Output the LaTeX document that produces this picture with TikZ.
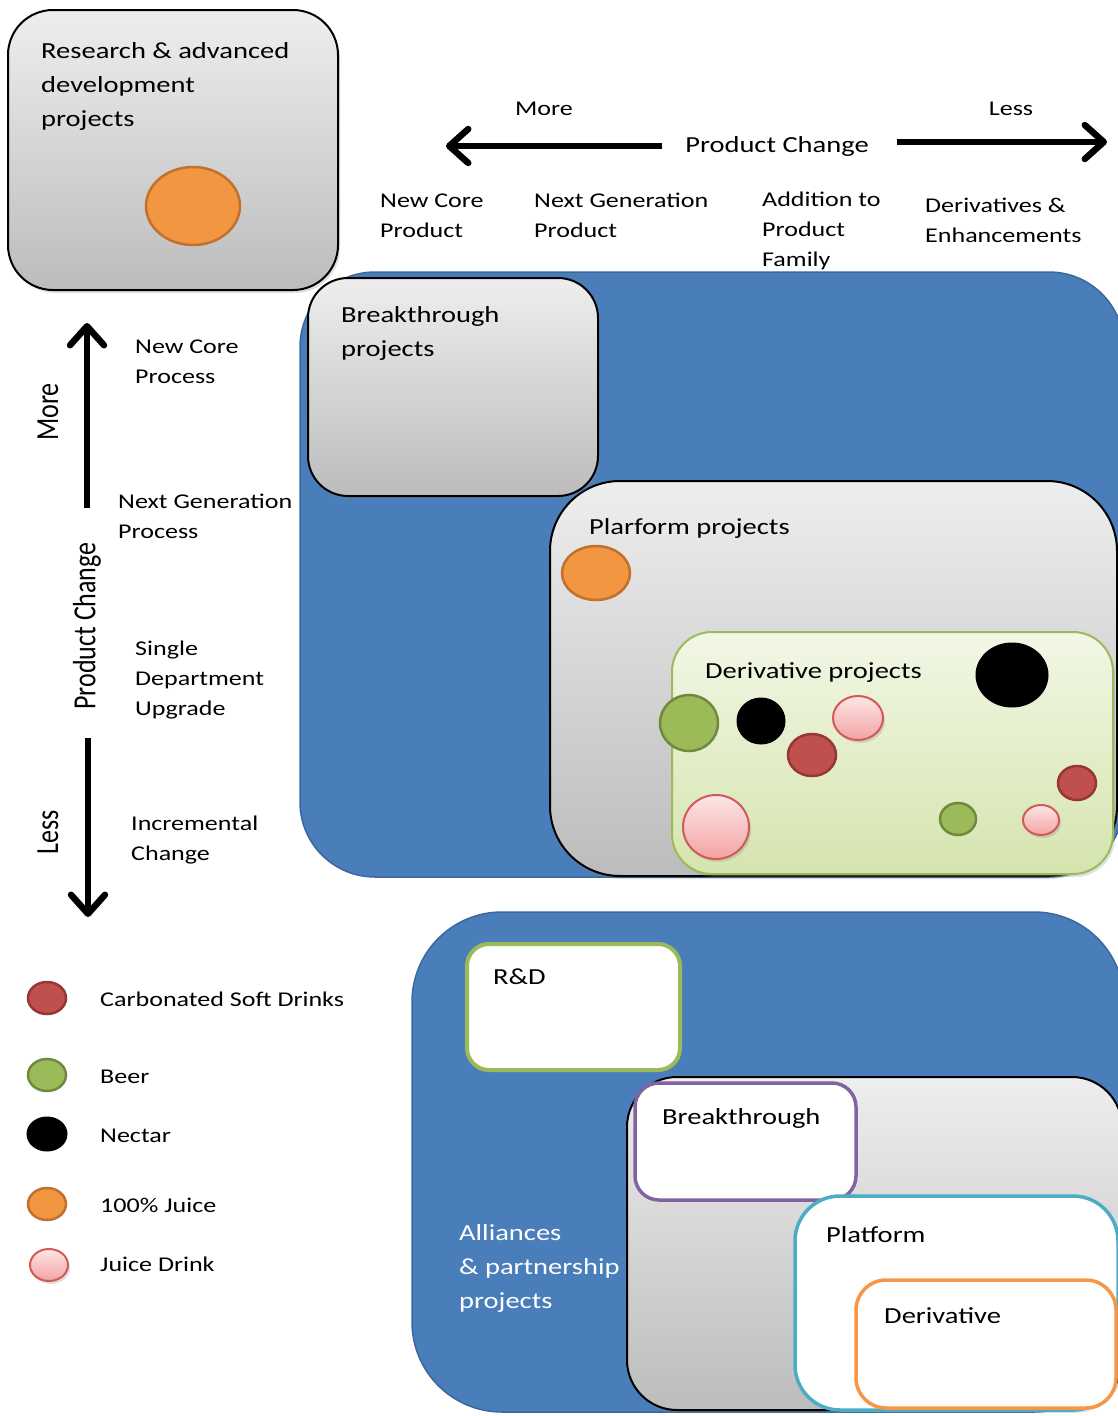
\documentclass[tikz,border=0pt]{standalone}
\usepackage{fontspec}
\setmainfont{Carlito}[FakeStretch=1.24]
\newfontfamily\uprightplain{Carlito}
\usetikzlibrary{arrows.meta,shadows}

\definecolor{panelblue}{HTML}{4A7EBB}
\definecolor{panelblueedge}{HTML}{3B679C}
\definecolor{greytop}{HTML}{EEEEEF}
\definecolor{greybot}{HTML}{BCBCBC}
\definecolor{limetop}{HTML}{F2F7E6}
\definecolor{limebot}{HTML}{D5E4AE}
\definecolor{limeedge}{HTML}{9BBB59}
\definecolor{csdfill}{HTML}{C0504D}
\definecolor{csdedge}{HTML}{953735}
\definecolor{beerfill}{HTML}{9BBB59}
\definecolor{beeredge}{HTML}{71893F}
\definecolor{juicefill}{HTML}{F29642}
\definecolor{juiceedge}{HTML}{C0712E}
\definecolor{drinktop}{HTML}{FDE6E6}
\definecolor{drinkbot}{HTML}{F3A3A3}
\definecolor{drinkedge}{HTML}{CF5A58}
\definecolor{purpleedge}{HTML}{8064A2}
\definecolor{tealedge}{HTML}{4BACC6}
\definecolor{orangeedge}{HTML}{F79646}

\newcommand{\rotlabel}[1]{\scalebox{1}[1.24]{\uprightplain\fontsize{26}{30}\selectfont #1}}

% multi-line nodes below are anchored at the baseline of their last line
\tikzset{
  softshadow/.style={drop shadow={shadow xshift=2pt,shadow yshift=-3pt,opacity=0.25}},
  greypanel/.style={draw=black,line width=2pt,top color=greytop,bottom color=greybot,softshadow},
  bluepanel/.style={draw=panelblueedge,line width=1.5pt,fill=panelblue},
  limepanel/.style={draw=limeedge,line width=2pt,top color=limetop,bottom color=limebot,softshadow},
  whitepanel/.style={fill=white,line width=3.5pt},
  csd/.style={fill=csdfill,draw=csdedge,line width=2.5pt},
  beer/.style={fill=beerfill,draw=beeredge,line width=2.5pt},
  nectar/.style={fill=black,draw=black,line width=1pt},
  juice/.style={fill=juicefill,draw=juiceedge,line width=2.5pt},
  drink/.style={top color=drinktop,bottom color=drinkbot,draw=drinkedge,line width=2pt,softshadow},
  ttl/.style={font=\fontsize{23}{34}\selectfont,align=left,anchor=base west,inner sep=0pt},
  lbl/.style={font=\fontsize{21}{30}\selectfont,align=left,anchor=base west,inner sep=0pt},
  axisarrow/.style={line width=6.5pt,-{Straight Barb[length=19pt,width=34pt,round]}},
}

\begin{document}
\begin{tikzpicture}[x=1pt,y=-1pt]
\useasboundingbox (0,0) rectangle (1118,1416);
\fill[white] (0,0) rectangle (1118,1416);

% ---------- upper portfolio map ----------
\path[bluepanel,rounded corners=75pt] (300,272) rectangle (1124,877);
\path[greypanel,rounded corners=70pt] (550,481) rectangle (1117,876);
\path[limepanel,rounded corners=40pt] (672,632) rectangle (1113,874);
\path[greypanel,rounded corners=40pt] (308,278) rectangle (598,496);
\path[greypanel,rounded corners=45pt] (8,10) rectangle (338,290);

\node[ttl] (rad) at (41,126) {Research \& advanced\\development\\projects};
\node[ttl] (brk) at (341,356) {Breakthrough\\projects};
\node[ttl] (plf) at (589,534) {Plarform projects};
\node[ttl] (drv) at (705,678) {Derivative projects};

% product markers
\path[juice] (193,206) ellipse [x radius=47,y radius=39];
\path[juice] (596,573) ellipse [x radius=34,y radius=27];
\path[nectar] (1012,675) ellipse [x radius=36,y radius=32];
\path[beer] (689,723) ellipse [x radius=29,y radius=28];
\path[nectar] (761,721) ellipse [x radius=24,y radius=23];
\path[drink] (858,718) ellipse [x radius=25,y radius=22];
\path[csd] (812,755) ellipse [x radius=24,y radius=21];
\path[drink] (716,827) ellipse [x radius=33,y radius=32];
\path[csd] (1077,783) ellipse [x radius=19,y radius=17];
\path[beer] (958,819) ellipse [x radius=18,y radius=16];
\path[drink] (1041,820) ellipse [x radius=18,y radius=15];

% ---------- horizontal axis ----------
\node[lbl,anchor=base] (hmore) at (544,115) {More};
\node[lbl,anchor=base] (hless) at (1011,115) {Less};
\node[ttl,anchor=base] (hpc) at (777,152) {Product Change};
\coordinate (hl0) at (662,146);
\coordinate (hl1) at (446,146);
\coordinate (hr0) at (897,142);
\coordinate (hr1) at (1107,142);
\draw[axisarrow] (hl0) -- (hl1);
\draw[axisarrow] (hr0) -- (hr1);

\node[lbl] (c1) at (380,237) {New Core\\Product};
\node[lbl] (c2) at (534,237) {Next Generation\\Product};
\node[lbl] (c3) at (762,266) {Addition to\\Product\\Family};
\node[lbl] (c4) at (925,242) {Derivatives \&\\Enhancements};

% ---------- vertical axis ----------
\node[rotate=90,inner sep=0pt] (vmore) at (48,412) {\rotlabel{More}};
\node[rotate=90,inner sep=0pt] (vpc) at (87,626) {\rotlabel{Product Change}};
\node[rotate=90,inner sep=0pt] (vless) at (48,832) {\rotlabel{Less}};
\coordinate (vu0) at (87,508);
\coordinate (vu1) at (87,323);
\coordinate (vd0) at (88,738);
\coordinate (vd1) at (88,917);
\draw[axisarrow] (vu0) -- (vu1);
\draw[axisarrow] (vd0) -- (vd1);

\node[lbl] (r1) at (135,383) {New Core\\Process};
\node[lbl] (r2) at (118,538) {Next Generation\\Process};
\node[lbl] (r3) at (135,715) {Single\\Department\\Upgrade};
\node[lbl] (r4) at (131,860) {Incremental\\Change};

% ---------- legend ----------
\path[csd] (47,998) ellipse [x radius=19,y radius=16];
\path[beer] (47,1075) ellipse [x radius=19,y radius=16];
\path[nectar] (47,1134) ellipse [x radius=20,y radius=17];
\path[juice] (47,1204) ellipse [x radius=19,y radius=16];
\path[drink] (49,1265) ellipse [x radius=19,y radius=16];
\node[lbl] (l1) at (100,1006) {Carbonated Soft Drinks};
\node[lbl] (l2) at (100,1083) {Beer};
\node[lbl] (l3) at (100,1142) {Nectar};
\node[lbl] (l4) at (100,1212) {100\% Juice};
\node[lbl] (l5) at (100,1271) {Juice Drink};

% ---------- lower portfolio map ----------
\path[bluepanel,rounded corners=90pt] (412,912) rectangle (1124,1412);
\path[whitepanel,draw=limeedge,line width=4pt,rounded corners=22pt] (467,944) rectangle (680,1070);
\path[greypanel,rounded corners=50pt] (627,1077) rectangle (1122,1410);
\path[whitepanel,draw=purpleedge,rounded corners=24pt] (635,1083) rectangle (856,1200);
\path[whitepanel,draw=tealedge,rounded corners=45pt] (795,1196) rectangle (1118,1410);
\path[whitepanel,draw=orangeedge,rounded corners=30pt] (856,1280) rectangle (1116,1408);

\node[ttl] (bRD) at (493,984) {R\&D};
\node[ttl] (bBT) at (662,1124) {Breakthrough};
\node[ttl] (bPF) at (826,1242) {Platform};
\node[ttl] (bDV) at (884,1323) {Derivative};
\node[ttl,text=white] (bAL) at (459,1308) {Alliances\\\& partnership\\projects};
\end{tikzpicture}
\end{document}
